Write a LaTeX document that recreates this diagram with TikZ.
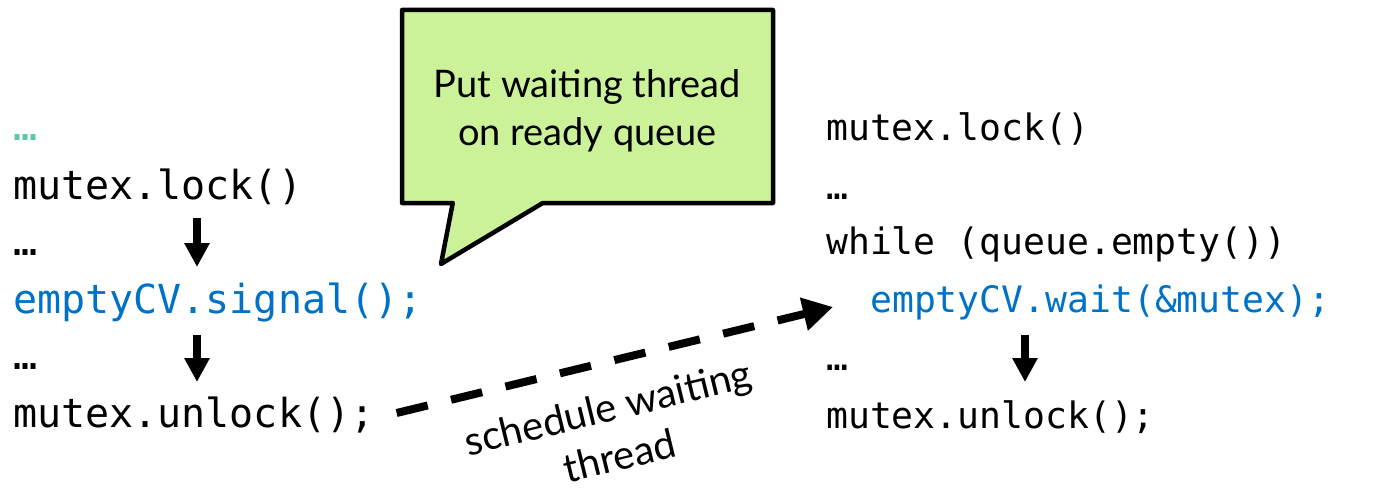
\documentclass[tikz,border=0pt]{standalone}
\usepackage{fontspec}
\setmainfont{Lato}
\newfontfamily\codefont{DejaVu Sans Mono}
\usetikzlibrary{arrows.meta,shapes.callouts,calc}
\definecolor{cvblue}{RGB}{0,114,198}
\definecolor{dotteal}{RGB}{90,200,165}
\definecolor{notegreen}{RGB}{204,242,153}
\tikzset{
  codeL/.style={anchor=base west, inner sep=0pt, font=\codefont\fontsize{40}{48}\selectfont},
  codeR/.style={anchor=base west, inner sep=0pt, font=\codefont\fontsize{36.4}{44}\selectfont},
  vflow/.style={line width=8pt, -{Triangle[length=24pt,width=24pt]}},
  handoff/.style={line width=8pt, dash pattern=on 32pt off 24pt, -{Triangle[length=30pt,width=32pt]}},
  note/.style={rectangle callout, draw, line width=4.5pt, fill=notegreen,
    minimum width=371pt, minimum height=193pt, align=center, line join=round,
    callout pointer width=90pt, font=\fontsize{38}{48}\selectfont},
  steplabel/.style={align=center, font=\fontsize{40}{50}\selectfont}
}
\begin{document}
\begin{tikzpicture}[x=1pt,y=-1pt]
\useasboundingbox (0,0) rectangle (1382,492);

% signalling thread
\node[codeL, text=dotteal] (ltop)  at (13,141) {…};
\node[codeL]               (llock) at (13,199) {mutex.lock()};
\node[codeL]               (ldotA) at (13,255) {…};
\node[codeL, text=cvblue]  (lsig)  at (13,313) {emptyCV.signal();};
\node[codeL]               (ldotB) at (13,369) {…};
\node[codeL]               (lunl)  at (13,427) {mutex.unlock();};

% waiting thread
\node[codeR]               (rlock) at (826,141) {mutex.lock()};
\node[codeR]               (rdotA) at (826,200) {…};
\node[codeR]               (rwhile) at (826,254) {while (queue.empty())};
\node[codeR, text=cvblue]  (rwait) at (870,312) {emptyCV.wait(\&mutex);};
\node[codeR]               (rdotB) at (826,370) {…};
\node[codeR]               (runl)  at (826,428) {mutex.unlock();};

% control flow
\draw[vflow] ($(llock.base west)+(184,19)$) -- ($(lsig.base west)+(184,-46)$);
\draw[vflow] ($(lsig.base west)+(184,22)$) -- ($(lunl.base west)+(184,-45)$);
\draw[vflow] ($(rwait.base west)+(155,23)$) -- ($(runl.base west)+(199,-46)$);

% hand-off to the waiting thread
\draw[handoff] ($(lunl.base east)+(22,-14)$) -- ($(rwait.base west)+(-37,-5)$)
  node[steplabel, pos=0.46, sloped, below=22pt] (sched) {schedule waiting\\thread};

% speech bubble
\node[note, callout absolute pointer={(441,264)}] (bubble) at (587.5,106.5)
  {\rule{0pt}{37pt}Put waiting thread\\on ready queue};
\end{tikzpicture}
\end{document}
